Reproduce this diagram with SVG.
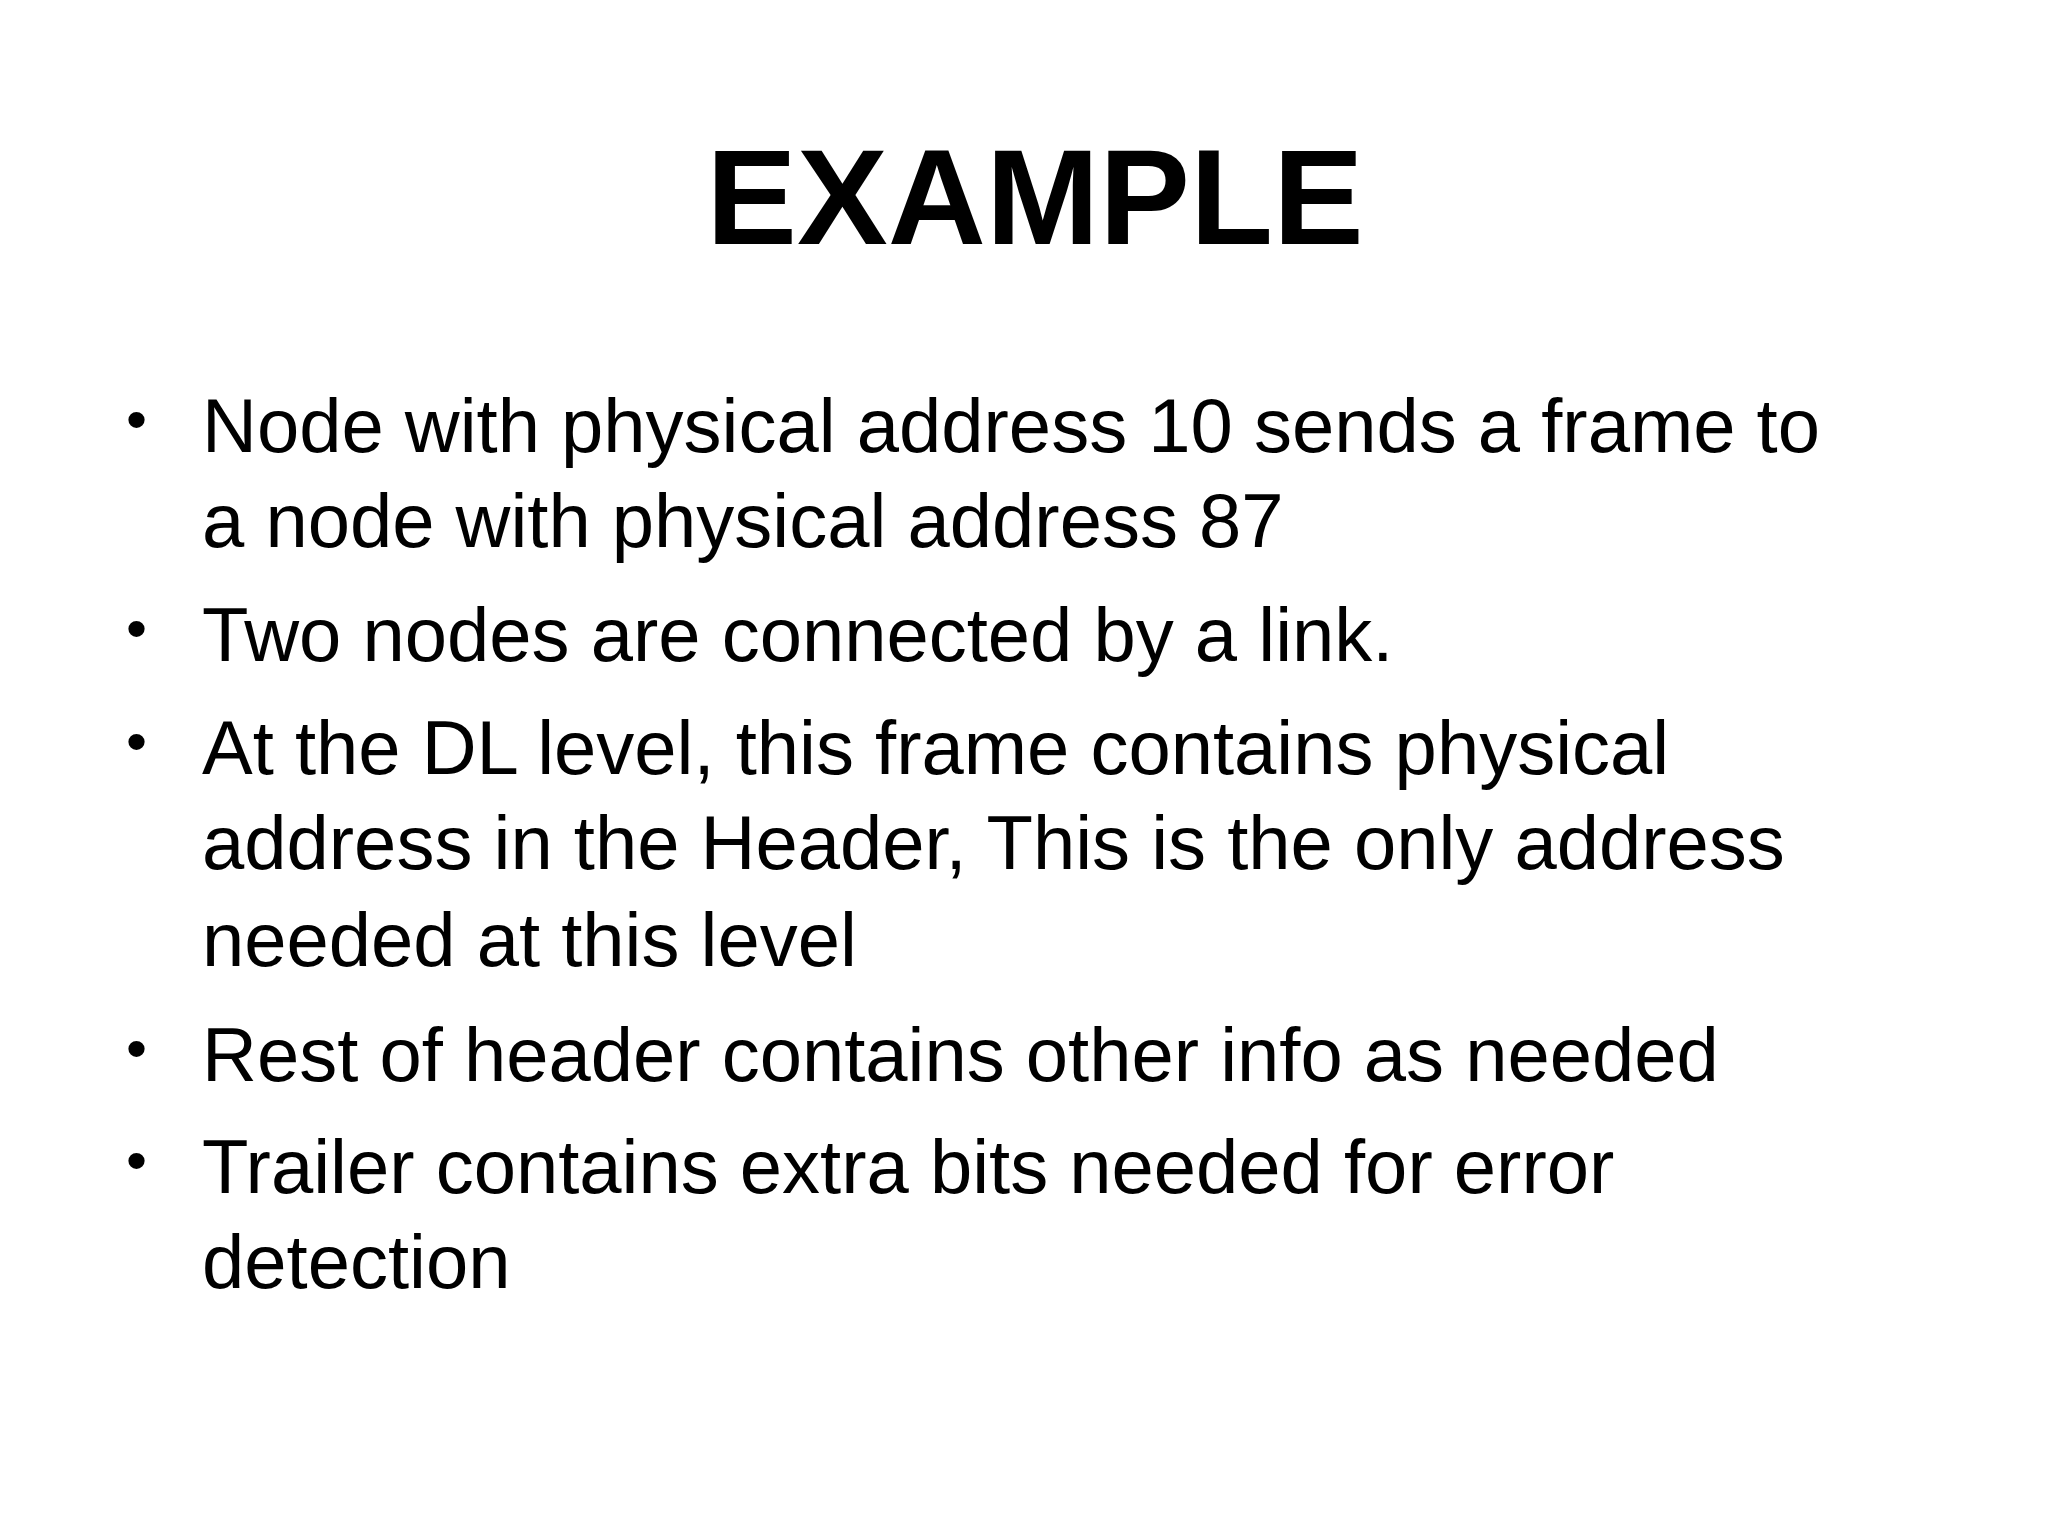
<svg xmlns="http://www.w3.org/2000/svg" width="2048" height="1536" viewBox="0 0 2048 1536">
<style>
.t{font-family:"Liberation Sans",Arial,sans-serif;font-size:76px;fill:#000}
.b{font-family:"Liberation Sans",Arial,sans-serif;font-size:60px;fill:#000}
</style>
<rect width="2048" height="1536" fill="#fff"/>
<g id="title"><text x="1035" y="244" text-anchor="middle" font-family="Liberation Sans,Arial,sans-serif" font-weight="bold" font-size="136">EXAMPLE</text></g>
<g id="bullets">
<text class="b" x="126" y="440">•</text>
<text class="t" x="202" y="452">Node with physical address 10 sends a frame to</text>
<text class="t" x="202" y="547">a node with physical address 87</text>
<text class="b" x="126" y="649">•</text>
<text class="t" x="202" y="661">Two nodes are connected by a link.</text>
<text class="b" x="126" y="762">•</text>
<text class="t" x="202" y="774">At the DL level, this frame contains physical</text>
<text class="t" x="202" y="869">address in the Header, This is the only address</text>
<text class="t" x="202" y="966">needed at this level</text>
<text class="b" x="126" y="1069">•</text>
<text class="t" x="202" y="1081">Rest of header contains other info as needed</text>
<text class="b" x="126" y="1181">•</text>
<text class="t" x="202" y="1193">Trailer contains extra bits needed for error</text>
<text class="t" x="202" y="1288">detection</text>
</g>
</svg>
